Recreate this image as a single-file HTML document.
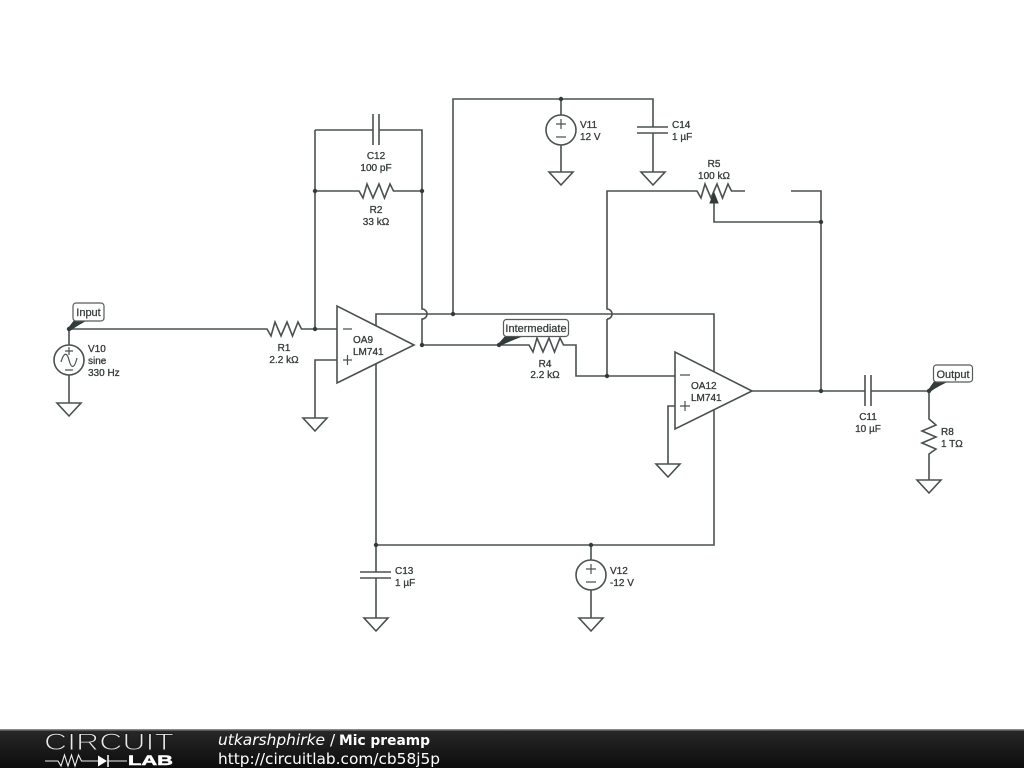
<!DOCTYPE html>
<html><head><meta charset="utf-8"><style>
html,body{margin:0;padding:0;background:#fff;width:1024px;height:768px;overflow:hidden}
svg{position:absolute;left:0;top:0;filter:blur(.35px)}
.w{fill:none;stroke:#4a5050;stroke-width:1.6}
.t{fill:none;stroke:#4a5050;stroke-width:1.6;stroke-linejoin:miter}
.o{fill:#fff;stroke:#4a5050;stroke-width:1.6}
.l text{font-family:"Liberation Sans",sans-serif;font-size:10px;fill:#343a3a;stroke:#343a3a;stroke-width:.3px}
.l text.g{font-size:11px;stroke-width:.25px}
.m{text-anchor:middle}
.f{font-family:"DejaVu Sans",sans-serif;font-size:15.400px;fill:#fff}
</style></head><body>
<svg width="1024" height="768" viewBox="0 0 1024 768" xmlns="http://www.w3.org/2000/svg">
<defs><linearGradient id="bar" x1="0" y1="0" x2="0" y2="1"><stop offset="0" stop-color="#2a2a2a"/><stop offset=".5" stop-color="#1a1a1a"/><stop offset="1" stop-color="#0c0c0c"/></linearGradient></defs>
<rect width="1024" height="768" fill="#fff"/>
<g class="w">
<path d="M69 329H267l4 7 4-14 6 14 6-14 5.500 14 5.500-14 3.500 7H337"/>
<path d="M315 130V329"/>
<path d="M315 130H373M379 130H422V309a5 5 0 0 1 0 10V345"/>
<path d="M373 114V145M379 114V145"/>
<path d="M315 191H359l4 7 4-14 6 14 6-14 5.500 14 5.500-14 3.500 7H422"/>
<path d="M337 360H315V418"/>
<path d="M376 545V314H714V545H376"/>
<path d="M453 314V99H653V127M653 133V172M637 127H668M637 133H668"/>
<path d="M561 99V115M561 145V172"/>
<path d="M607 376V319a5 5 0 0 0 0 0M607 319a5 5 0 0 0 0-10V191H697l4 7 4-14 6 14 6-14 5.500 14 5.500-14 3.500 7H745"/>
<path d="M791 191H821V391"/>
<path d="M714 203V222H821"/>
<path d="M422 345H529l4 7 4-14 6 14 6-14 5.500 14 5.500-14 3.500 7H576V376H675"/>
<path d="M752 391H865M871 391H929V419l7 6-14 6 14 6-14 6 14 6-7 5V480"/>
<path d="M865 375V406M871 375V406"/>
<path d="M675 406H668V464"/>
<path d="M69 345V329M69 375V403"/>
<path d="M376 545V572M376 578V618M360 572H391M360 578H391"/>
<path d="M591 545V560M591 590V618"/>
</g>
<g class="t">
<path d="M57 403H81L69 416Z"/>
<path d="M303 418H327L315 431Z"/>
<path d="M549 172H573L561 185Z"/>
<path d="M641 172H665L653 185Z"/>
<path d="M656 464H680L668 477Z"/>
<path d="M917 480H941L929 493Z"/>
<path d="M364 618H388L376 631Z"/>
<path d="M579 618H603L591 631Z"/>
</g>
<path class="o" d="M337 306V383L414 345Z"/>
<path class="o" d="M675 352V429L752 391Z"/>
<g class="o">
<circle cx="69" cy="360" r="15"/>
<circle cx="561" cy="130" r="15"/>
<circle cx="591" cy="575" r="15"/>
</g>
<g class="w" style="stroke-width:1.2">
<path d="M343 329H352M343 360H352M347.500 355V365"/>
<path d="M680 375H690M680 406H690M685 401V411"/>
<path d="M556 124H566M561 119V129M556 137H566"/>
<path d="M586 569H596M591 564V574M586 582H596"/>
<path d="M65 351H73M69 347V355M65 370H73M61 362C64 352 67 352 69 360S74 370 77 358"/>
</g>
<path d="M714 193L710 203H718Z" fill="#333a3a" stroke="#333a3a"/>
<g fill="#333a3a">
<circle cx="315" cy="329" r="2.200"/><circle cx="315" cy="191" r="2.200"/><circle cx="422" cy="191" r="2.200"/><circle cx="422" cy="345" r="2.200"/>
<circle cx="453" cy="314" r="2.200"/><circle cx="561" cy="99" r="2.200"/><circle cx="607" cy="376" r="2.200"/><circle cx="821" cy="222" r="2.200"/>
<circle cx="821" cy="391" r="2.200"/><circle cx="376" cy="545" r="2.200"/><circle cx="591" cy="545" r="2.200"/>
<circle cx="69" cy="329" r="2.200"/><circle cx="499" cy="345" r="2.200"/><circle cx="929" cy="391" r="2.200"/>
<path d="M68 328L75 319H90Q78 325 70 331Z"/>
<path d="M498 344L507 334H530Q512 340 500 346Z"/>
<path d="M928 390L935 380H952Q938 386 930 392Z"/>
</g>
<g fill="#fff" stroke="#555b5b" stroke-width="1.200">
<rect x="73" y="303" rx="3" width="31" height="18"/>
<rect x="503.500" y="319.500" rx="3" width="65" height="17"/>
<rect x="933.500" y="365" rx="3" width="39" height="17"/>
</g>
<g class="l">
<text x="88.500" y="316" class="m g">Input</text>
<text x="536" y="332" class="m g">Intermediate</text>
<text x="953" y="378" class="m g">Output</text>
<text x="88" y="352">V10</text><text x="88" y="364">sine</text><text x="88" y="376">330 Hz</text>
<text x="284" y="351" class="m">R1</text><text x="284" y="363" class="m">2.2 kΩ</text>
<text x="376" y="159" class="m">C12</text><text x="376" y="171" class="m">100 pF</text>
<text x="376" y="213" class="m">R2</text><text x="376" y="225" class="m">33 kΩ</text>
<text x="353" y="343">OA9</text><text x="353" y="355">LM741</text>
<text x="691" y="389">OA12</text><text x="691" y="401">LM741</text>
<text x="545" y="367" class="m">R4</text><text x="545" y="378" class="m">2.2 kΩ</text>
<text x="580" y="128">V11</text><text x="580" y="140">12 V</text>
<text x="672" y="128">C14</text><text x="672" y="140">1 µF</text>
<text x="714" y="167" class="m">R5</text><text x="714" y="179" class="m">100 kΩ</text>
<text x="868" y="420" class="m">C11</text><text x="868" y="432" class="m">10 µF</text>
<text x="941" y="435">R8</text><text x="941" y="447">1 TΩ</text>
<text x="395" y="574">C13</text><text x="395" y="586">1 µF</text>
<text x="610" y="574">V12</text><text x="610" y="586">-12 V</text>
</g>
<rect x="0" y="729" width="1024" height="39" fill="url(#bar)"/>
<rect x="0" y="729" width="1024" height="1.500" fill="#8a8a8a"/>
<text x="44" y="750" font-family="Liberation Sans,sans-serif" font-size="24" fill="#e8e8e8" stroke="#1c1c1c" stroke-width="1" textLength="130" lengthAdjust="spacingAndGlyphs">CIRCUIT</text>
<path d="M45 761H58l3 5 3.500-11 3.500 11 3.500-11 3.500 11 3.500-11 3 6H98M108 761H127" fill="none" stroke="#eee" stroke-width="1.100"/>
<path d="M98 755.500V766.500L107 761Z" fill="#fff"/><path d="M108 755V767" stroke="#fff" stroke-width="1.500"/>
<text x="128" y="765" font-family="Liberation Sans,sans-serif" font-size="14" font-weight="bold" fill="#fff" stroke="#fff" stroke-width=".5" textLength="45" lengthAdjust="spacingAndGlyphs">LAB</text>
<text x="218" y="745" class="f" font-style="italic" textLength="107" lengthAdjust="spacingAndGlyphs">utkarshphirke</text>
<text x="330" y="745" class="f">/</text>
<text x="339" y="745" class="f" font-weight="bold" font-size="14.500" style="font-size:14.500px" textLength="91" lengthAdjust="spacingAndGlyphs">Mic preamp</text>
<text x="218" y="764" class="f" textLength="222" lengthAdjust="spacingAndGlyphs">http://circuitlab.com/cb58j5p</text>
</svg>
</body></html>
